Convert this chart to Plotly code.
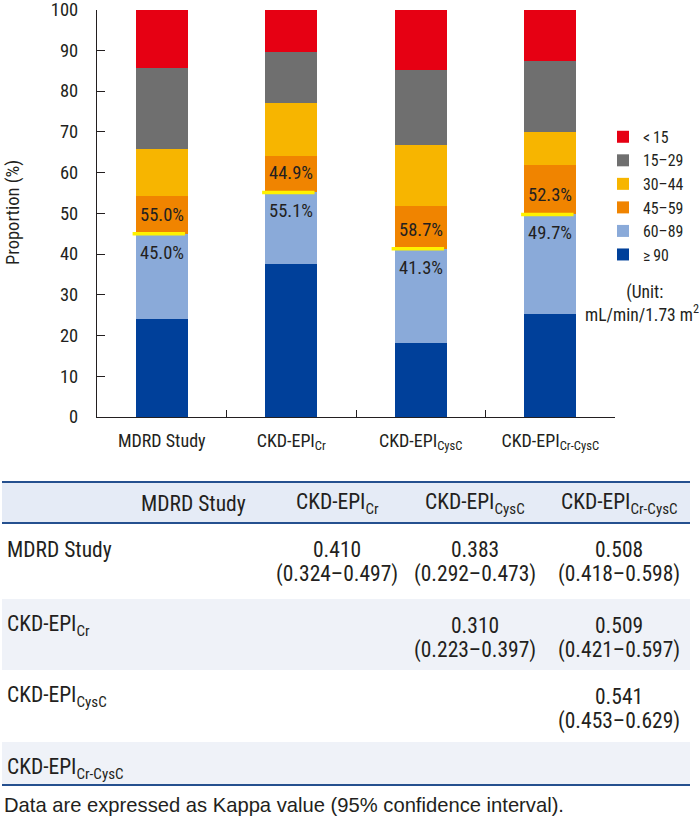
import plotly.graph_objects as go

W, H = 699, 816

# GFR categories (bottom to top of each stacked bar)
categories = ["MDRD Study", "CKD-EPI<sub>Cr</sub>", "CKD-EPI<sub>CysC</sub>", "CKD-EPI<sub>Cr-CysC</sub>"]
stages = ["\u2265\u200990", "60\u201389", "45\u201359", "30\u201344", "15\u201329", "&lt;\u200915"]
stage_colors = ["#00409a", "#8aaad9", "#f08400", "#f7b500", "#6f6f6f", "#e60013"]

ge90 = [24.0, 37.5, 18.1, 25.3]
g60_89 = [21.0, 17.6, 23.2, 24.4]
g45_59 = [9.3, 8.9, 10.6, 12.2]
g30_44 = [11.5, 13.0, 14.9, 8.0]
g15_29 = [19.9, 12.5, 18.3, 17.4]
lt15 = [14.3, 10.5, 14.9, 12.7]
series = [ge90, g60_89, g45_59, g30_44, g15_29, lt15]

# printed proportions above / below the 60 mL/min/1.73 m2 cut-off
pct_ge60 = [45.0, 55.1, 41.3, 49.7]
pct_lt60 = [55.0, 44.9, 58.7, 52.3]

# Kappa agreement table
table_names = ["MDRD Study", "CKD-EPI<sub>Cr</sub>", "CKD-EPI<sub>CysC</sub>", "CKD-EPI<sub>Cr-CysC</sub>"]
kappa = [[None, "0.410", "0.383", "0.508"],
         [None, None, "0.310", "0.509"],
         [None, None, None, "0.541"],
         [None, None, None, None]]
kappa_ci = [[None, "(0.324\u20130.497)", "(0.292\u20130.473)", "(0.418\u20130.598)"],
            [None, None, "(0.223\u20130.397)", "(0.421\u20130.597)"],
            [None, None, None, "(0.453\u20130.629)"],
            [None, None, None, None]]
footnote = "Data are expressed as Kappa value (95% confidence interval)."

NARROW = "Roboto Condensed, DejaVu Sans Condensed, sans-serif"
INK = "#231f20"


def px(x):
    return x / W


def py(y):
    return 1 - y / H


def note(x, y, text, font, **kw):
    d = dict(x=px(x), y=py(y), xref="paper", yref="paper", text=text, showarrow=False,
             xanchor="center", yanchor="middle", font=font)
    d.update(kw)
    return d


fig = go.Figure()
for name, vals, col in zip(stages, series, stage_colors):
    fig.add_trace(go.Bar(x=categories, y=vals, name=name, width=0.4,
                         marker=dict(color=col, line=dict(width=0)),
                         hoverinfo="skip"))

annotations = []
shapes = []

# yellow marker line at the 60 mL/min/1.73 m2 boundary + percentages
LBL = dict(size=18.5, color=INK, family=NARROW)
for i, cat in enumerate(categories):
    cut = ge90[i] + g60_89[i]
    shapes.append(dict(type="line", xref="x", yref="y", x0=i - 0.225, x1=i + 0.18,
                       y0=cut, y1=cut, line=dict(color="#fff200", width=3.5)))
    annotations.append(dict(x=i, y=cut, xref="x", yref="y", text=f"{pct_lt60[i]:.1f}%", xanchor="center",
                            yanchor="middle", showarrow=False, yshift=19, font=LBL))
    annotations.append(dict(x=i, y=cut, xref="x", yref="y", text=f"{pct_ge60[i]:.1f}%", xanchor="center",
                            yanchor="middle", showarrow=False, yshift=-19, font=LBL))

annotations.append(note(13, 213, "Proportion (%)", dict(size=18.5, color=INK, family=NARROW), textangle=-90))
annotations.append(note(645, 304, "(Unit:<br>mL/min/1.73 m<sup>2</sup>)", dict(size=17.5, color=INK, family=NARROW)))

# ---- table ----
TL, TR = 2, 690
row_edges = [482, 523, 599, 670, 742, 785]
col_centers = [193, 337, 475, 619]
header_fill = "#e5ebf6"
band_fill = "#eff2f8"
rule = "#25508f"

shapes.append(dict(type="rect", xref="paper", yref="paper", x0=px(TL), x1=px(TR),
                   y0=py(row_edges[0]), y1=py(row_edges[1]), fillcolor=header_fill, line=dict(width=0), layer="below"))
for r in (1, 3):
    shapes.append(dict(type="rect", xref="paper", yref="paper", x0=px(TL), x1=px(TR),
                       y0=py(row_edges[r + 1]), y1=py(row_edges[r + 2]), fillcolor=band_fill,
                       line=dict(width=0), layer="below"))
for yy in (row_edges[0], row_edges[1], row_edges[-1]):
    shapes.append(dict(type="line", xref="paper", yref="paper", x0=px(TL), x1=px(TR),
                       y0=py(yy), y1=py(yy), line=dict(color=rule, width=2)))

TFONT = dict(size=21.5, color=INK, family=NARROW)
hdr_y = 0.5 * (row_edges[0] + row_edges[1]) + 1
for j, name in enumerate(table_names):
    annotations.append(note(col_centers[j], hdr_y, name, TFONT))
for i, name in enumerate(table_names):
    top = row_edges[i + 1]
    annotations.append(note(5, top + 26, name, TFONT, xanchor="left"))
    for j in range(4):
        if kappa[i][j] is None:
            continue
        annotations.append(note(col_centers[j], top + 26, kappa[i][j], TFONT))
        annotations.append(note(col_centers[j], top + 51, kappa_ci[i][j], TFONT))

annotations.append(note(2, 805, footnote, dict(size=20.2, color=INK, family="Liberation Sans, Arial, sans-serif"),
                        xanchor="left"))

fig.update_layout(
    width=W, height=H,
    margin=dict(l=0, r=0, t=0, b=0, autoexpand=False),
    paper_bgcolor="white", plot_bgcolor="white",
    barmode="stack",
    font=dict(family=NARROW, color=INK, size=18),
    legend=dict(x=px(603), y=py(120), xanchor="left", yanchor="top", traceorder="reversed",
                font=dict(size=15.8, family=NARROW, color=INK), bgcolor="rgba(0,0,0,0)",
                itemclick=False, tracegroupgap=0),
    xaxis=dict(domain=[px(97), px(615)], range=[-0.5, 3.5], showline=True, linecolor=INK, linewidth=1.2,
               ticks="inside", tickson="boundaries", ticklen=7, tickcolor=INK, showgrid=False,
               ticklabelstandoff=7, automargin=False,
               tickfont=dict(size=18, family=NARROW, color=INK), fixedrange=True),
    yaxis=dict(domain=[py(417), py(9.5)], range=[0, 100], dtick=10, showline=True, linecolor=INK,
               linewidth=1.2, ticks="inside", ticklen=8, tickcolor=INK, showgrid=False, zeroline=False,
               ticklabelstandoff=14, ticklabeloverflow="allow", automargin=False,
               tickfont=dict(size=18.5, family=NARROW, color=INK), fixedrange=True),
    shapes=shapes, annotations=annotations,
)

fig.write_html("out.html", config={"displayModeBar": False},
               post_script="document.body.style.margin='0';")
